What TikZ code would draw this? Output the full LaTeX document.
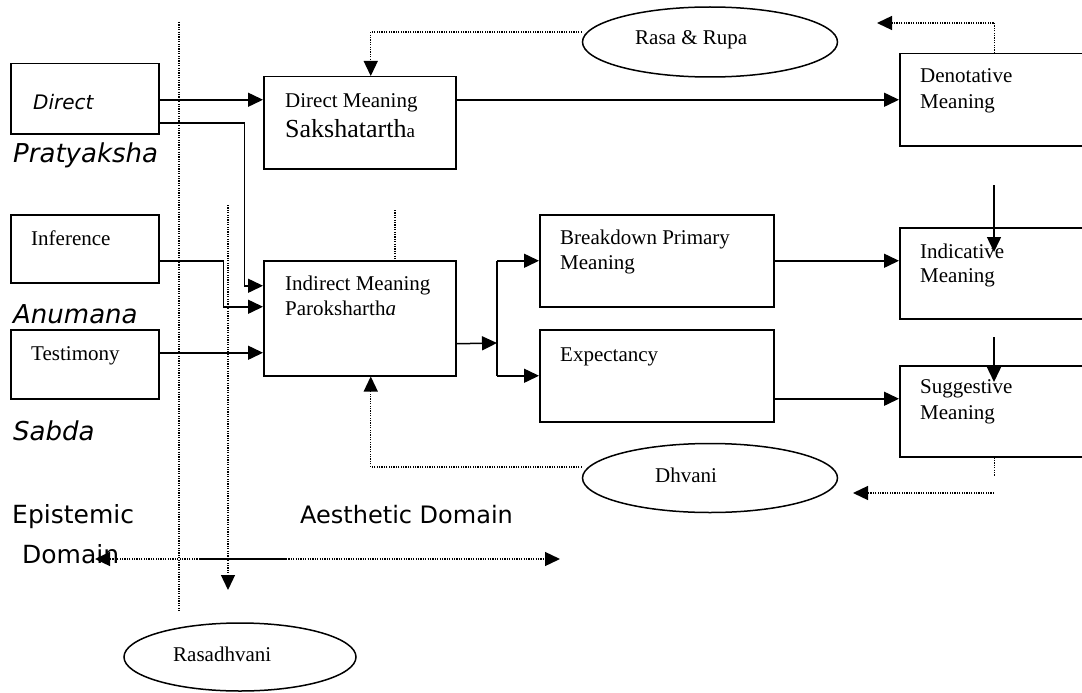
\documentclass[tikz,border=0pt]{standalone}
\usepackage{fontspec}
\setmainfont{Liberation Serif}
\newfontfamily\vsans{DejaVu Sans}
\usetikzlibrary{arrows.meta,shapes.geometric}
\newcommand\myfs[1]{\fontsize{#1}{#1}\selectfont}
\tikzset{
  box/.style={draw, line width=1.5pt, rectangle, inner sep=0pt, anchor=north west},
  oval/.style={draw, line width=1.5pt, ellipse, inner sep=0pt},
  txt/.style={inner sep=0pt, anchor=base west, font=\myfs{21}},
  stxt/.style={inner sep=0pt, anchor=base west, font=\vsans\itshape\myfs{26}},
  dtxt/.style={inner sep=0pt, anchor=base west, font=\vsans\myfs{25}},
  arr/.style={line width=1.5pt, -{Triangle[length=15pt,width=14pt]}},
  sline/.style={line width=1.5pt},
  dline/.style={line width=1.3pt, dash pattern=on 1.2pt off 1.2pt},
  darr/.style={dline, -{Triangle[length=15pt,width=14pt]}},
}
\begin{document}
\begin{tikzpicture}[x=1pt,y=-1pt]
\clip (0,0) rectangle (1082,693);
\fill[white] (0,0) rectangle (1082,693);

% boxes
\node[box, minimum width=148pt, minimum height=70pt] (direct) at (10,63) {};
\node[box, minimum width=148pt, minimum height=68pt] (inf) at (10,214) {};
\node[box, minimum width=148pt, minimum height=69pt] (tes) at (10,329) {};
\node[box, minimum width=192pt, minimum height=92pt] (dm) at (263,76) {};
\node[box, minimum width=192pt, minimum height=115pt] (im) at (263,260) {};
\node[box, minimum width=234pt, minimum height=92pt] (bd) at (539,214) {};
\node[box, minimum width=234pt, minimum height=92pt] (ex) at (539,329) {};
\node[box, minimum width=190pt, minimum height=92pt] (den) at (899,53) {};
\node[box, minimum width=190pt, minimum height=91pt] (ind) at (899,227) {};
\node[box, minimum width=190pt, minimum height=91pt] (sug) at (899,365) {};

% ellipses
\node[oval, minimum width=255pt, minimum height=70pt] (rasa) at (710,42) {};
\node[oval, minimum width=255pt, minimum height=69pt] (dh) at (710,478) {};
\node[oval, minimum width=232pt, minimum height=68pt] (rd) at (240,657) {};

% texts in boxes
\node[txt, font=\vsans\itshape\myfs{20}] (tdirect) at (33,110) {Direct};
\node[txt] (tinf) at (31,245) {Inference};
\node[txt] (ttes) at (31,360) {Testimony};
\node[txt] (tdm1) at (285,107) {Direct Meaning};
\node[txt] (tdm2) at (285,137) {{\myfs{26}Sakshatarth}{\myfs{19}a}};
\node[txt] (tim1) at (285,290) {Indirect Meaning};
\node[txt] (tim2) at (285,315) {Paroksharth\textit{a}};
\node[txt] (tbd1) at (560,244) {Breakdown Primary};
\node[txt] (tbd2) at (560,269) {Meaning};
\node[txt] (tex) at (560,361) {Expectancy};
\node[txt] (tden1) at (920,83) {Denotative};
\node[txt] (tden2) at (920,108) {Meaning};
\node[txt] (tind1) at (920,258) {Indicative};
\node[txt] (tind2) at (920,282) {Meaning};
\node[txt] (tsug1) at (920,393) {Suggestive};
\node[txt] (tsug2) at (920,419) {Meaning};
\node[txt] (trasa) at (635,45) {Rasa \& Rupa};
\node[txt] (tdh) at (655,482) {Dhvani};
\node[txt] (trd) at (173,661) {Rasadhvani};

% side labels
\node[stxt] (lprat) at (13,162) {Pratyaksha};
\node[stxt] (lanu) at (13,323) {Anumana};
\node[stxt] (lsab) at (13,440) {Sabda};
\node[dtxt] (lepi) at (12,523) {Epistemic};
\node[dtxt] (ldom) at (22,563) {Domain};
\node[dtxt, font=\vsans\myfs{24}] (laes) at (300,523) {Aesthetic Domain};

% coordinates
\coordinate (split) at (497,343);
\coordinate (v1a) at (994,185);
\coordinate (v1b) at (994,252);
\coordinate (v2a) at (994,337);
\coordinate (v2b) at (994,382);
\coordinate (dentip) at (877,23);
\coordinate (sugh) at (994,493);
\coordinate (sugtip) at (853,493);
\coordinate (stub) at (395,210);
\coordinate (vl1a) at (179,22);
\coordinate (vl1b) at (179,612);
\coordinate (vl2a) at (228,205);
\coordinate (vl2b) at (228,590);
\coordinate (hl) at (200,559);
\coordinate (hr) at (286,559);
\coordinate (hltip) at (95,559);
\coordinate (hrtip) at (560,559);

% solid connectors
\draw[arr] ([yshift=-1pt]direct.east) -- ([yshift=-1pt]direct.east -| dm.west);
\draw[arr] ([yshift=-24pt]direct.east) -- ++(85,0) |- ([yshift=32.5pt]im.west);
\draw[arr] ([yshift=-12pt]inf.east) -- ++(64,0) |- ([yshift=11.5pt]im.west);
\draw[arr] ([yshift=11.5pt]tes.east) -- ([yshift=-34.5pt]im.west);
\draw[arr] ([yshift=23pt]dm.east) -- (den.west);
\draw[arr] ([yshift=-25.5pt]im.east) -- (split);
\draw[sline] (split |- bd.west) -- (split |- ex.west);
\draw[arr] (split |- bd.west) -- (bd.west);
\draw[arr] (split |- ex.west) -- (ex.west);
\draw[arr] (bd.east) -- (bd.east -| ind.west);
\draw[arr] ([yshift=-23pt]ex.east) -- ([yshift=-23pt]ex.east -| sug.west);
\draw[arr] (v1a) -- (v1b);
\draw[arr] (v2a) -- (v2b);

% dotted connectors
\draw[darr] ([yshift=10pt]rasa.west) -| ([xshift=11pt]dm.north);
\draw[darr] (den.north) |- (dentip);
\draw[darr] ([yshift=11pt]dh.west) -| ([xshift=11pt]im.south);
\draw[dline] (sug.south) -- ++(0,19);
\draw[darr] (sugh) -- (sugtip);
\draw[dline] (stub) -- (stub |- im.north);
\draw[dline] (vl1a) -- (vl1b);
\draw[darr] (vl2a) -- (vl2b);
\draw[darr] (hl) -- (hltip);
\draw[sline] (hl) -- (hr);
\draw[darr] (hr) -- (hrtip);
\end{tikzpicture}
\end{document}
